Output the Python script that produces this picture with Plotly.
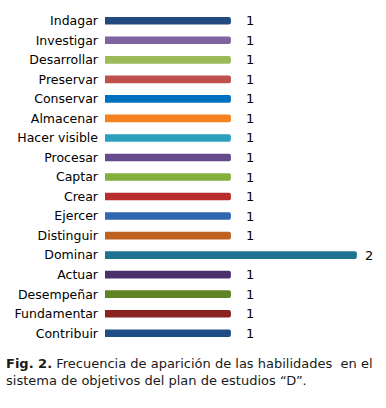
import plotly.graph_objects as go

categories = ["Indagar", "Investigar", "Desarrollar", "Preservar", "Conservar",
              "Almacenar", "Hacer visible", "Procesar", "Captar", "Crear",
              "Ejercer", "Distinguir", "Dominar", "Actuar", "Desempeñar",
              "Fundamentar", "Contribuir"]
values = [1, 1, 1, 1, 1, 1, 1, 1, 1, 1, 1, 1, 2, 1, 1, 1, 1]
colors = ["#234A7E", "#8064A2", "#9BBB59", "#C0504D", "#0070C0",
          "#F58220", "#2C9FBF", "#654A8C", "#84AF3C", "#B72E2C",
          "#2F67B1", "#C0621F", "#1F7391", "#4B2F6B", "#5F8225",
          "#8A2220", "#1F4E86"]

cats_rev = categories[::-1]
vals_rev = values[::-1]
cols_rev = colors[::-1]

fig = go.Figure()
fig.add_trace(go.Bar(
    y=cats_rev, x=vals_rev, orientation="h",
    marker=dict(color=cols_rev, line=dict(width=0), cornerradius=2),
    width=0.39, hoverinfo="skip",
))

for c, v in zip(cats_rev, vals_rev):
    fig.add_annotation(x=v, y=c, xref="x", yref="y", text=str(v),
                       showarrow=False, xanchor="left", xshift=13 if v == 1 else 6,
                       font=dict(family="DejaVu Sans", size=13, color="#000000"))

fig.add_annotation(
    x=0, y=0, xref="paper", yref="paper", xanchor="left", yanchor="top",
    xshift=-101, yshift=-11, align="left", showarrow=False,
    text="<b>Fig. 2.</b> Frecuencia de aparición de las habilidades  en el<br>sistema de objetivos del plan de estudios “D”.",
    font=dict(family="DejaVu Sans", size=13, color="#1a1a1a"),
)

fig.update_layout(
    width=386, height=408,
    margin=dict(l=105, r=4, t=11, b=65, autoexpand=False),
    paper_bgcolor="white", plot_bgcolor="white",
    showlegend=False,
    xaxis=dict(range=[0, 2.2], visible=False, fixedrange=True, automargin=False),
    yaxis=dict(range=[-0.5, 16.5], showgrid=False, zeroline=False, showline=False,
               ticks="", ticklabelstandoff=6, automargin=False, fixedrange=True,
               tickfont=dict(family="DejaVu Sans", size=12.5, color="#000000")),
)

fig.write_html("out.html", config={"displayModeBar": False},
               post_script="document.body.style.margin='0';")
